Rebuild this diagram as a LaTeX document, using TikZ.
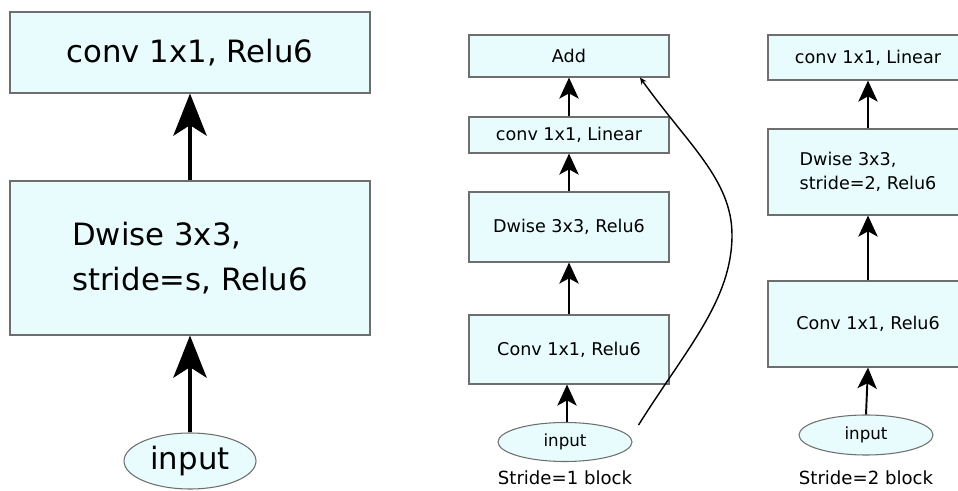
\documentclass[tikz,border=0pt]{standalone}
\usepackage{fontspec}
\setmainfont{DejaVu Sans}
\usepackage{tikz}
\usetikzlibrary{shapes.geometric, arrows.meta}

\definecolor{boxfill}{RGB}{232,252,253}
\definecolor{boxline}{RGB}{110,110,110}

\begin{document}
\begin{tikzpicture}[font=\small]
		\tikzstyle{block} = [rectangle, minimum width=4cm, draw=boxline, fill=boxfill, line width=0.6pt, align=center, font=\fontsize{10}{14}\selectfont]
		
		\tikzstyle{bigblock} = [block, minimum width=7.2cm, font=\fontsize{17.5}{25.5}\selectfont]
		
		\tikzstyle{inp} = [ellipse, minimum width=2.68cm, draw=boxline, fill=boxfill, line width=0.6pt, inner sep=0pt, font=\fontsize{9.5}{11}\selectfont]
		
		\tikzstyle{caption} = [font=\fontsize{10.3}{12}\selectfont]
		
		\tikzstyle{arrowbig} = [-{Stealth[length=24pt, width=19pt, inset=6pt]}, line width=2pt]
		\tikzstyle{arrow} = [-{Stealth[length=12pt, width=11pt, inset=3pt]}, line width=1.1pt]
		\tikzstyle{skip} = [-{Stealth[length=4pt, width=3.5pt]}, line width=0.8pt]
		
		\useasboundingbox (0,0) rectangle (19.16,-9.82);
		\clip (0,0) rectangle (19.16,-9.82);
		
		% Left: general block
		\node (inL) [inp, minimum width=2.64cm, minimum height=1.12cm, font=\fontsize{17.5}{20}\selectfont] at (3.8,-9.22) {input};
		\node (dwL) [bigblock, minimum height=3.08cm, node distance=4.06cm, above of = inL, align=left] {Dwise 3x3,\\stride=s, Relu6};
		\node (convL) [bigblock, minimum height=1.62cm, node distance=4.11cm, above of = dwL] {conv 1x1, Relu6};
		
		% Middle: stride 1
		\node (inM) [inp, minimum height=0.78cm] at (11.3,-8.84) {input};
		\node (c1M) [block, minimum height=1.38cm, node distance=1.85cm, above of = inM, xshift=0.08cm] {Conv 1x1, Relu6};
		\node (dwM) [block, minimum height=1.4cm, node distance=2.45cm, above of = c1M] {Dwise 3x3, Relu6};
		\node (linM) [block, minimum height=0.72cm, node distance=1.84cm, above of = dwM] {conv 1x1, Linear};
		\node (addM) [block, minimum height=0.84cm, node distance=1.58cm, above of = linM] {Add};
		\node (lblM) [caption, node distance=0.72cm, below of = inM] {Stride=1 block};
		
		% Right: stride 2
		\node (inR) [inp, minimum height=0.8cm] at (17.32,-8.7) {input};
		\node (c1R) [block, minimum height=1.72cm, node distance=2.22cm, above of = inR, xshift=0.04cm] {Conv 1x1, Relu6};
		\node (dwR) [block, minimum height=1.72cm, node distance=3.04cm, above of = c1R, align=left] {Dwise 3x3,\\stride=2, Relu6};
		\node (linR) [block, minimum height=0.9cm, node distance=2.29cm, above of = dwR] {conv 1x1, Linear};
		\node (lblR) [caption, node distance=0.86cm, below of = inR] {Stride=2 block};
		
		% Arrows
		\draw [arrowbig] (inL.north) -- (dwL.south);
		\draw [arrowbig] (dwL.north) -- (convL.south);
		
		\draw [arrow] ([xshift=0.04cm]inM.north) -- ([xshift=-0.04cm]c1M.south);
		\draw [arrow] (c1M.north) -- (dwM.south);
		\draw [arrow] (dwM.north) -- (linM.south);
		\draw [arrow] (linM.north) -- (addM.south);
		
		\draw [arrow] (inR.north) -- (c1R.south);
		\draw [arrow] (c1R.north) -- (dwR.south);
		\draw [arrow] (dwR.north) -- (linR.south);
		
		% Shortcut
		\coordinate (bend) at (14.64,-4.7);
		\draw [skip] ([xshift=0.12cm, yshift=0.34cm]inM.east) .. controls +(0.96,1.53) and +(0,-1.3) .. (bend) .. controls +(0,1.1) and +(0.96,-1.34) .. ([xshift=1.42cm]addM.south);
\end{tikzpicture}
\end{document}
